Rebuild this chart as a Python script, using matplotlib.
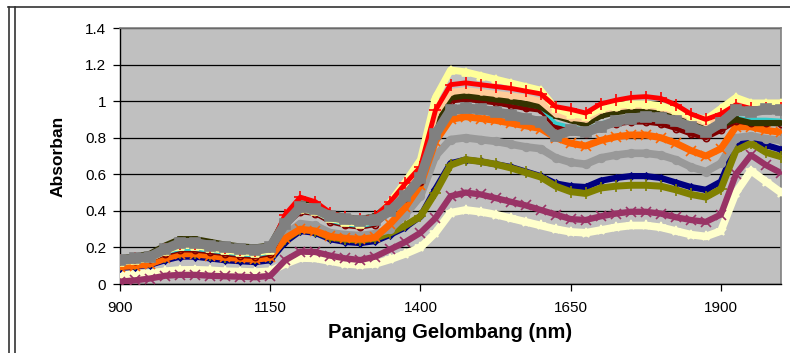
import numpy as np
import matplotlib
matplotlib.use("Agg")
import matplotlib.pyplot as plt
from matplotlib.lines import Line2D

plt.rcParams['font.family'] = ['Liberation Sans', 'DejaVu Sans']

# wavelength grid (nm), one reading every 25 nm
wl = np.arange(900, 2001, 25)

cream = [0.05, 0.055, 0.06, 0.07, 0.077, 0.078, 0.075, 0.07, 0.068, 0.065, 0.07, 0.11,
         0.142, 0.14, 0.125, 0.11, 0.104, 0.11, 0.135, 0.165, 0.20, 0.28, 0.39, 0.405,
         0.395, 0.38, 0.36, 0.34, 0.32, 0.30, 0.285, 0.28, 0.295, 0.31, 0.32, 0.32,
         0.31, 0.29, 0.27, 0.26, 0.29, 0.50, 0.62, 0.56, 0.50]
plum = [0.013, 0.02, 0.03, 0.045, 0.05, 0.05, 0.045, 0.042, 0.04, 0.037, 0.045, 0.13,
        0.177, 0.175, 0.155, 0.14, 0.131, 0.15, 0.19, 0.23, 0.28, 0.36, 0.48, 0.50,
        0.49, 0.47, 0.45, 0.43, 0.405, 0.38, 0.355, 0.35, 0.37, 0.385, 0.395, 0.395,
        0.385, 0.365, 0.35, 0.34, 0.38, 0.60, 0.705, 0.65, 0.607]
olive = [0.104, 0.11, 0.12, 0.145, 0.17, 0.17, 0.16, 0.15, 0.145, 0.14, 0.15, 0.245,
         0.30, 0.29, 0.255, 0.245, 0.24, 0.25, 0.28, 0.32, 0.37, 0.50, 0.65, 0.68,
         0.67, 0.655, 0.635, 0.61, 0.585, 0.535, 0.505, 0.495, 0.525, 0.535, 0.54, 0.54,
         0.535, 0.515, 0.49, 0.475, 0.52, 0.73, 0.77, 0.72, 0.696]
navy = [0.088, 0.095, 0.105, 0.13, 0.15, 0.15, 0.14, 0.13, 0.125, 0.12, 0.13, 0.23,
        0.29, 0.28, 0.245, 0.23, 0.224, 0.235, 0.27, 0.31, 0.37, 0.52, 0.66, 0.68,
        0.67, 0.655, 0.64, 0.615, 0.59, 0.55, 0.535, 0.53, 0.565, 0.58, 0.59, 0.59,
        0.58, 0.555, 0.53, 0.515, 0.56, 0.76, 0.80, 0.76, 0.735]
lgray = [0.11, 0.115, 0.125, 0.155, 0.18, 0.18, 0.17, 0.16, 0.155, 0.15, 0.16, 0.27,
         0.33, 0.32, 0.28, 0.27, 0.265, 0.275, 0.30, 0.38, 0.48, 0.70, 0.79, 0.80,
         0.79, 0.78, 0.765, 0.75, 0.74, 0.69, 0.665, 0.655, 0.69, 0.705, 0.715, 0.715,
         0.705, 0.68, 0.64, 0.615, 0.66, 0.80, 0.81, 0.795, 0.785]
orange = [0.095, 0.10, 0.11, 0.14, 0.165, 0.165, 0.155, 0.145, 0.14, 0.135, 0.145, 0.25,
          0.30, 0.29, 0.26, 0.25, 0.245, 0.255, 0.33, 0.42, 0.54, 0.78, 0.90, 0.915,
          0.905, 0.895, 0.88, 0.865, 0.85, 0.80, 0.77, 0.755, 0.785, 0.805, 0.815, 0.815,
          0.80, 0.77, 0.73, 0.70, 0.74, 0.86, 0.86, 0.84, 0.83]
maroon = [0.12, 0.125, 0.135, 0.165, 0.186, 0.185, 0.175, 0.165, 0.155, 0.15, 0.165, 0.32,
          0.395, 0.385, 0.34, 0.32, 0.31, 0.325, 0.40, 0.47, 0.56, 0.86, 1.00, 1.01,
          1.00, 0.99, 0.975, 0.96, 0.95, 0.86, 0.835, 0.82, 0.855, 0.875, 0.885, 0.885,
          0.875, 0.85, 0.82, 0.80, 0.84, 0.89, 0.88, 0.88, 0.875]
aqua = [0.125, 0.13, 0.14, 0.17, 0.19, 0.19, 0.18, 0.17, 0.16, 0.155, 0.17, 0.33,
        0.40, 0.39, 0.345, 0.325, 0.315, 0.33, 0.42, 0.50, 0.60, 0.90, 1.02, 1.03,
        1.02, 1.01, 0.995, 0.98, 0.965, 0.88, 0.86, 0.845, 0.88, 0.90, 0.91, 0.91,
        0.90, 0.875, 0.845, 0.825, 0.86, 0.91, 0.90, 0.90, 0.895]
black = [0.14, 0.15, 0.165, 0.21, 0.245, 0.245, 0.23, 0.215, 0.205, 0.20, 0.21, 0.36,
         0.44, 0.43, 0.385, 0.365, 0.355, 0.37, 0.44, 0.52, 0.62, 0.90, 1.02, 1.03,
         1.02, 1.01, 1.00, 0.985, 0.97, 0.92, 0.895, 0.875, 0.92, 0.94, 0.95, 0.95,
         0.94, 0.915, 0.885, 0.86, 0.87, 0.90, 0.88, 0.88, 0.88]
peach = [0.13, 0.14, 0.15, 0.19, 0.22, 0.22, 0.205, 0.195, 0.185, 0.18, 0.195, 0.35,
         0.43, 0.42, 0.375, 0.355, 0.345, 0.36, 0.43, 0.52, 0.62, 0.93, 1.05, 1.06,
         1.05, 1.04, 1.03, 1.02, 1.00, 0.93, 0.91, 0.90, 0.95, 0.965, 0.975, 0.975,
         0.965, 0.94, 0.91, 0.88, 0.92, 0.99, 0.98, 0.99, 0.99]
yellow = [0.12, 0.13, 0.14, 0.18, 0.21, 0.21, 0.195, 0.185, 0.175, 0.17, 0.185, 0.33,
          0.41, 0.40, 0.36, 0.34, 0.33, 0.35, 0.45, 0.56, 0.68, 1.02, 1.17, 1.16,
          1.14, 1.12, 1.10, 1.08, 1.06, 0.96, 0.93, 0.92, 0.96, 0.975, 0.985, 0.985,
          0.975, 0.95, 0.92, 0.90, 0.96, 1.02, 0.99, 0.99, 0.99]
red = [0.13, 0.14, 0.15, 0.19, 0.22, 0.22, 0.205, 0.195, 0.185, 0.18, 0.20, 0.38,
       0.475, 0.45, 0.39, 0.365, 0.355, 0.37, 0.45, 0.55, 0.64, 0.95, 1.09, 1.10,
       1.09, 1.08, 1.07, 1.055, 1.04, 0.97, 0.955, 0.935, 0.985, 1.005, 1.02, 1.025,
       1.015, 0.98, 0.93, 0.90, 0.93, 0.98, 0.96, 0.96, 0.96]
gray = [0.13, 0.14, 0.15, 0.19, 0.225, 0.225, 0.21, 0.20, 0.19, 0.185, 0.20, 0.33,
        0.42, 0.41, 0.37, 0.355, 0.345, 0.35, 0.40, 0.48, 0.58, 0.82, 0.95, 0.96,
        0.955, 0.94, 0.925, 0.905, 0.885, 0.81, 0.84, 0.83, 0.86, 0.89, 0.905, 0.915,
        0.91, 0.89, 0.86, 0.83, 0.88, 0.95, 0.94, 0.955, 0.95]

# (values, colour, marker, marker size, line width, open marker)
series = [
    (cream, '#FFFFCC', '*', 7, 5.5, False),
    (plum, '#993366', 'x', 7, 4.5, False),
    (navy, '#000080', 'D', 3.5, 4.5, False),
    (olive, '#808000', '+', 8, 5.0, False),
    (lgray, '#999999', 'o', 5.5, 5.5, False),
    (orange, '#FF6600', 'x', 7, 5.0, False),
    (maroon, '#800000', 'o', 4.5, 3.5, True),
    (aqua, '#33CCCC', '_', 4, 2.5, False),
    (black, '#333300', 's', 3.5, 4.5, False),
    (peach, '#FFCC99', 'o', 3.5, 4.5, False),
    (yellow, '#FFFF99', '^', 5.5, 5.0, False),
    (red, '#FF0000', '+', 9, 3.5, False),
    (gray, '#808080', 's', 7, 7.0, False),
]

fig = plt.figure(figsize=(7.9, 3.53), dpi=100)
ax = fig.add_axes([120 / 790, 69 / 353, 661 / 790, 256 / 353])
ax.set_facecolor('#C0C0C0')

for vals, col, mk, ms, lw, hollow in series:
    ax.plot(wl, vals, color=col, lw=lw, marker=mk, markersize=ms,
            markeredgewidth=1.2, markerfacecolor='none' if hollow else col,
            solid_capstyle='butt', zorder=3)

ax.set_xlim(900, 2000)
ax.set_ylim(0, 1.4)
ax.set_xticks([900, 1150, 1400, 1650, 1900])
ax.set_yticks([0, 0.2, 0.4, 0.6, 0.8, 1, 1.2, 1.4])
ax.set_yticklabels(['0', '0.2', '0.4', '0.6', '0.8', '1', '1.2', '1.4'])
ax.yaxis.grid(True, color='black', lw=0.9)
ax.set_axisbelow(True)
ax.tick_params(direction='out', length=5, width=0.9, labelsize=11)
ax.tick_params(axis='x', pad=7)
ax.tick_params(axis='y', pad=5)

for side in ['top', 'right']:
    ax.spines[side].set_color('#808080')
    ax.spines[side].set_linewidth(1.2)
for side in ['left', 'bottom']:
    ax.spines[side].set_color('black')
    ax.spines[side].set_linewidth(1.0)

ax.set_xlabel('Panjang Gelombang (nm)', fontsize=14.5, fontweight='bold', labelpad=6)
ax.set_ylabel('Absorban', fontsize=12.5, fontweight='bold', labelpad=14)

# chart-area frame lines
fig.add_artist(Line2D([8 / 790, 1], [1 - 7 / 353, 1 - 7 / 353], color='#333333', lw=1.2))
fig.add_artist(Line2D([9 / 790, 9 / 790], [0, 1 - 7 / 353], color='#333333', lw=1.2))
fig.add_artist(Line2D([15 / 790, 15 / 790], [0, 1 - 7 / 353], color='#333333', lw=1.2))

fig.savefig('out.png', dpi=100)
